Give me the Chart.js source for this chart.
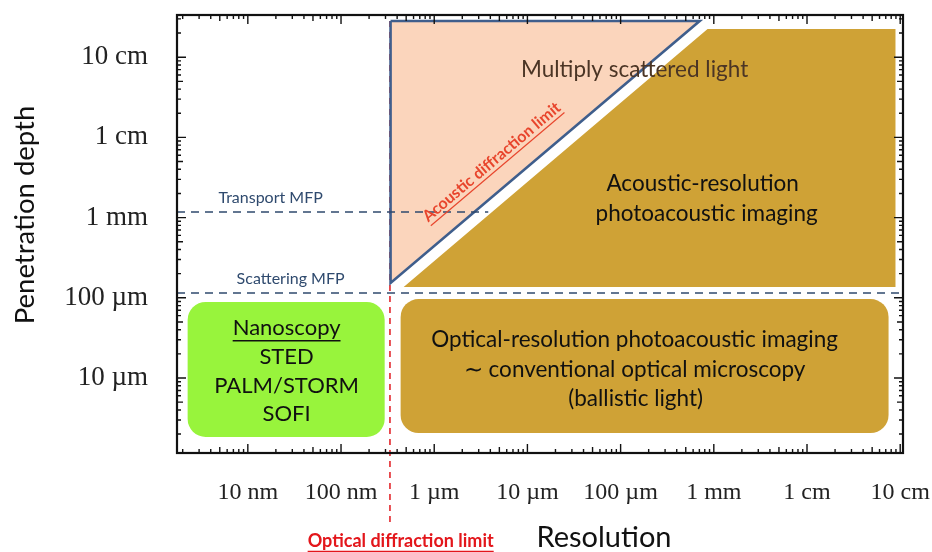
<!DOCTYPE html>
<html>
<head>
<meta charset="utf-8">
<script src="https://cdn.jsdelivr.net/npm/chart.js@4.4.1/dist/chart.umd.min.js"></script>
<style>
  html, body { margin: 0; padding: 0; background: #fff; }
  #wrap { width: 932px; height: 552px; position: relative; }
</style>
</head>
<body>
<div id="wrap"><canvas id="c" width="932" height="552"></canvas></div>
<script>
// All lengths are in micrometres (µm); both axes are logarithmic.
const xTickValues = [0.01, 0.1, 1, 10, 100, 1000, 1e4, 1e5];
const xTickLabels = ['10 nm', '100 nm', '1 µm', '10 µm', '100 µm', '1 mm', '1 cm', '10 cm'];
const yTickValues = [10, 100, 1000, 1e4, 1e5];
const yTickLabels = ['10 µm', '100 µm', '1 mm', '1 cm', '10 cm'];
const xLimits = [10 ** -2.76, 10 ** 5.03];
const yLimits = [10 ** 0.065, 10 ** 5.526];

// Regimes as [resolution, depth] corners
const multiplyScattered = [[0.34, 2.83e5], [705, 2.83e5], [0.34, 153], [0.34, 2.83e5]];
const acousticResolution = [[0.47, 136], [857, 2.25e5], [8.9e4, 2.25e5], [8.9e4, 136], [0.47, 136]];
const nanoscopyBox = { x: [0.00226, 0.294], y: [1.84, 88.7] };
const opticalResolutionBox = { x: [0.436, 7.5e4], y: [2.06, 96.6] };

// Reference lines
const transportMFP = [[xLimits[0], 1175], [3.8, 1175]];
const scatteringMFP = [[xLimits[0], 115], [xLimits[1], 115]];
const opticalDiffractionLimit = [[0.335, 2.83e5], [0.335, 0.147]];

const pts = arr => arr.map(([x, y]) => ({ x, y }));

// Text placed in the plot, anchored in log10(µm) units
const plotTexts = [
  { t: 'Multiply scattered light', lx: 2.15, ly: 4.84, size: 22.5, color: '#4b3525' },
  { t: 'Acoustic-resolution', lx: 2.88, ly: 3.419, size: 22.5 },
  { t: 'photoacoustic imaging', lx: 2.923, ly: 3.045, size: 22.5 },
  { t: 'Optical-resolution photoacoustic imaging', lx: 2.15, ly: 1.474, size: 22.5 },
  { t: '∼ conventional optical microscopy', lx: 2.15, ly: 1.10, size: 22.5 },
  { t: '(ballistic light)', lx: 2.161, ly: 0.738, size: 22.5 },
  { t: 'Nanoscopy', lx: -1.584, ly: 1.623, size: 22, underline: true },
  { t: 'STED', lx: -1.584, ly: 1.262, size: 22 },
  { t: 'PALM/STORM', lx: -1.584, ly: 0.900, size: 22 },
  { t: 'SOFI', lx: -1.584, ly: 0.551, size: 22 },
  { t: 'Transport MFP', lx: -1.755, ly: 3.244, size: 16, color: '#2f4a6e' },
  { t: 'Scattering MFP', lx: -1.541, ly: 2.234, size: 16, color: '#2f4a6e' },
  { t: 'Optical diffraction limit', lx: -0.36, ly: -1.032, size: 18, bold: true, color: '#e3161b', underline: true }
];

const SANS = 'Lato, "Open Sans", sans-serif';
const SERIF = '"Liberation Serif", "Times New Roman", serif';

function drawLabel(ctx, text, x, y, o) {
  ctx.save();
  ctx.translate(x, y);
  if (o.angle) ctx.rotate(o.angle);
  ctx.font = (o.bold ? 'bold ' : '') + o.size + 'px ' + (o.family || SANS);
  ctx.fillStyle = o.color || '#111';
  ctx.textAlign = 'center';
  ctx.textBaseline = 'middle';
  ctx.fillText(text, 0, 0);
  if (o.underline) {
    const w = ctx.measureText(text).width;
    ctx.strokeStyle = o.color || '#111';
    ctx.lineWidth = Math.max(1, o.size / 14);
    ctx.beginPath();
    ctx.moveTo(-w / 2, o.size * 0.58);
    ctx.lineTo(w / 2, o.size * 0.58);
    ctx.stroke();
  }
  ctx.restore();
}

const boxesPlugin = {
  id: 'boxes',
  beforeDatasetsDraw(chart) {
    const { ctx, scales: { x, y } } = chart;
    const box = (b, color) => {
      const x0 = x.getPixelForValue(b.x[0]), x1 = x.getPixelForValue(b.x[1]);
      const y0 = y.getPixelForValue(b.y[1]), y1 = y.getPixelForValue(b.y[0]);
      ctx.beginPath();
      ctx.roundRect(x0, y0, x1 - x0, y1 - y0, 18);
      ctx.fillStyle = color;
      ctx.fill();
    };
    ctx.save();
    box(nanoscopyBox, '#98f43c');
    box(opticalResolutionBox, '#cfa236');
    ctx.restore();
  }
};

const overlayPlugin = {
  id: 'overlay',
  afterDraw(chart) {
    const { ctx, chartArea: a, scales: { x, y } } = chart;
    ctx.save();
    // inward tick marks on all four sides
    ctx.strokeStyle = '#111';
    ctx.lineWidth = 1.4;
    const marks = (scale, fn) => {
      const d0 = Math.floor(Math.log10(scale.min)), d1 = Math.ceil(Math.log10(scale.max));
      for (let d = d0; d <= d1; d++) {
        for (let m = 1; m <= 9; m++) {
          const v = m * 10 ** d;
          if (v < scale.min || v > scale.max) continue;
          fn(scale.getPixelForValue(v), m === 1 ? 9 : (m === 5 ? 6 : 4));
        }
      }
    };
    ctx.beginPath();
    marks(x, (p, len) => {
      ctx.moveTo(p, a.bottom); ctx.lineTo(p, a.bottom - len);
      ctx.moveTo(p, a.top); ctx.lineTo(p, a.top + len);
    });
    marks(y, (p, len) => {
      ctx.moveTo(a.left, p); ctx.lineTo(a.left + len, p);
      ctx.moveTo(a.right, p); ctx.lineTo(a.right - len, p);
    });
    ctx.stroke();
    ctx.lineWidth = 2.2;
    ctx.strokeRect(a.left, a.top, a.width, a.height);

    // labels inside and around the plot
    plotTexts.forEach(o => {
      drawLabel(ctx, o.t, x.getPixelForValue(10 ** o.lx), y.getPixelForValue(10 ** o.ly), o);
    });

    // label running along the acoustic diffraction limit
    const p1 = multiplyScattered[1], p2 = multiplyScattered[2];
    const ang = Math.atan2(y.getPixelForValue(p1[1]) - y.getPixelForValue(p2[1]),
                           x.getPixelForValue(p1[0]) - x.getPixelForValue(p2[0]));
    drawLabel(ctx, 'Acoustic diffraction limit',
      x.getPixelForValue(10 ** 0.616), y.getPixelForValue(10 ** 3.693),
      { size: 16, bold: true, color: '#e8452c', underline: true, angle: ang });

    // axis titles
    drawLabel(ctx, 'Resolution', 604, 538, { size: 29, color: '#111' });
    drawLabel(ctx, 'Penetration depth', 25, 215, { size: 27.5, color: '#111', angle: -Math.PI / 2 });
    ctx.restore();
  }
};

new Chart(document.getElementById('c'), {
  type: 'scatter',
  data: {
    datasets: [
      { data: pts(transportMFP), showLine: true, borderColor: '#2f4a6e', borderWidth: 1.6, borderDash: [8, 6], pointRadius: 0, order: 1 },
      { data: pts(scatteringMFP), showLine: true, borderColor: '#2f4a6e', borderWidth: 1.6, borderDash: [8, 6], pointRadius: 0, order: 1 },
      { data: pts(multiplyScattered), showLine: true, fill: 'shape', backgroundColor: '#fbd5bc', borderColor: '#3f5e8c', borderWidth: 2.6, borderJoinStyle: 'miter', pointRadius: 0, tension: 0, order: 2 },
      { data: pts(acousticResolution), showLine: true, fill: 'shape', backgroundColor: '#cfa236', borderColor: '#cfa236', borderWidth: 0, pointRadius: 0, tension: 0, order: 3 },
      { data: pts(opticalDiffractionLimit), showLine: true, borderColor: '#e3262b', borderWidth: 1.6, borderDash: [6, 5], pointRadius: 0, clip: false, order: 4 }
    ]
  },
  options: {
    responsive: false,
    animation: false,
    events: [],
    layout: { padding: { top: 15, right: 29, left: 0, bottom: 0 } },
    plugins: { legend: { display: false }, tooltip: { enabled: false } },
    scales: {
      x: {
        type: 'logarithmic',
        min: xLimits[0], max: xLimits[1],
        grid: { display: false, drawTicks: false },
        border: { display: false },
        afterBuildTicks: s => { s.ticks = xTickValues.map(v => ({ value: v })); },
        afterFit: s => { s.height = 99; s.paddingLeft = 0; s.paddingRight = 0; },
        ticks: {
          autoSkip: false, maxRotation: 0, padding: 25, color: '#222',
          font: { family: SERIF, size: 24 },
          callback: v => xTickLabels[xTickValues.indexOf(v)]
        }
      },
      y: {
        type: 'logarithmic',
        min: yLimits[0], max: yLimits[1],
        grid: { display: false, drawTicks: false },
        border: { display: false },
        afterBuildTicks: s => { s.ticks = yTickValues.map(v => ({ value: v })); },
        afterFit: s => { s.width = 177; s.paddingTop = 0; s.paddingBottom = 0; },
        ticks: {
          autoSkip: false, padding: 29, color: '#222',
          font: { family: SERIF, size: 27 },
          callback: v => yTickLabels[yTickValues.indexOf(v)]
        }
      }
    }
  },
  plugins: [boxesPlugin, overlayPlugin]
});
</script>
</body>
</html>
